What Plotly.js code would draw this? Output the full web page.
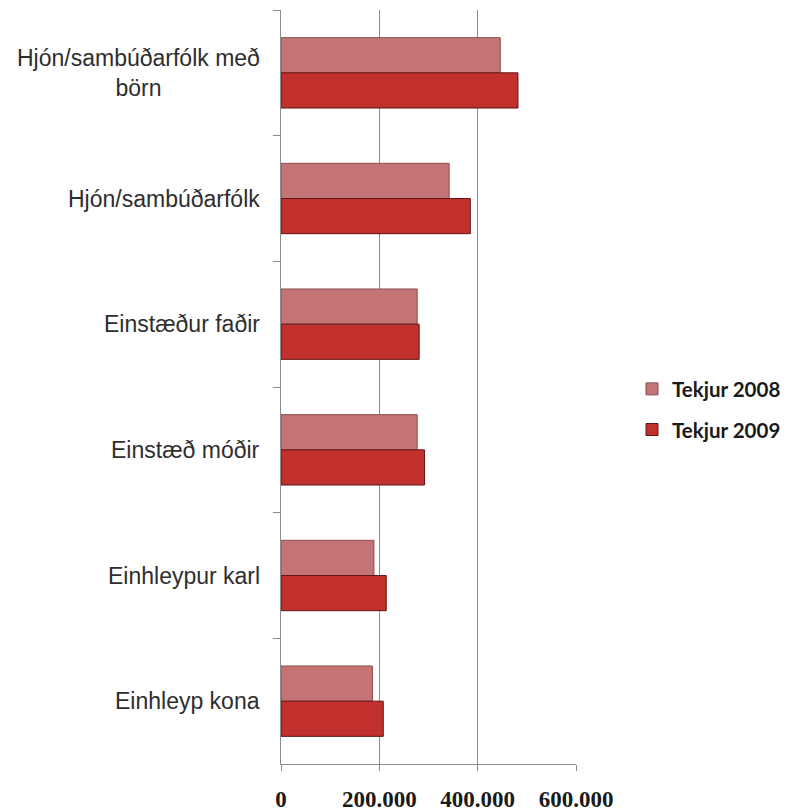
<!DOCTYPE html>
<html>
<head>
<meta charset="utf-8">
<script src="https://cdn.plot.ly/plotly-3.0.1.min.js"></script>
<style>html,body{margin:0;padding:0;background:#fff;}</style>
</head>
<body>
<div id="chart" style="width:791px;height:811px;"></div>
<script>
const categories = ['Hjón/sambúðarfólk með<br>börn', 'Hjón/sambúðarfólk', 'Einstæður faðir', 'Einstæð móðir', 'Einhleypur karl', 'Einhleyp kona'];
const tekjur2008 = [446000, 342000, 277000, 277000, 189000, 186000];
const tekjur2009 = [482000, 385000, 281000, 292000, 214000, 208000];
const seriesNames = ['Tekjur 2008', 'Tekjur 2009'];
const xTicks = [0, 200000, 400000, 600000];

const traces = [
  {type: 'bar', orientation: 'h', name: seriesNames[0], y: categories, x: tekjur2008,
   legendgroup: 'a',
   marker: {color: '#c47474', line: {color: '#8a4f4f', width: 1}}, hoverinfo: 'x+y'},
  {type: 'bar', orientation: 'h', name: seriesNames[1], y: categories, x: tekjur2009,
   legendgroup: 'b',
   marker: {color: '#c2302e', line: {color: '#5e1616', width: 1}}, hoverinfo: 'x+y'}
];

const annotations = categories.map(c => ({
  xref: 'paper', yref: 'y', x: 0, y: c, text: c, showarrow: false,
  xanchor: 'right', yanchor: 'middle', align: 'center', xshift: -19,
  font: {family: 'Liberation Sans, Arial, sans-serif', size: 23, color: '#2e2e2e'}
}));

const layout = {
  width: 791, height: 811,
  margin: {l: 281, r: 215, t: 10, b: 47},
  paper_bgcolor: '#ffffff', plot_bgcolor: '#ffffff',
  separators: ',.',
  barmode: 'group', bargap: 0.44, bargroupgap: 0,
  showlegend: true,
  legend: {xref: 'container', yref: 'container', x: 0.799, y: 0.495, xanchor: 'left', yanchor: 'middle',
    traceorder: 'grouped', tracegroupgap: 11, bgcolor: 'rgba(0,0,0,0)',
    font: {family: 'Lato, Calibri, sans-serif', size: 20.5, color: '#1a1a1a', weight: 'bold'}},
  xaxis: {range: [0, 600000], tickvals: xTicks, tickformat: ',d',
    showgrid: true, gridcolor: '#8c8c8c', gridwidth: 1,
    showline: true, linecolor: '#8c8c8c', linewidth: 1,
    ticks: 'outside', ticklen: 6, tickcolor: '#8c8c8c',
    zeroline: false, ticklabelstandoff: 8,
    tickfont: {family: 'Liberation Serif, Cambria, serif', size: 23, color: '#1a1a1a', weight: 'bold'}},
  yaxis: {type: 'category', autorange: 'reversed', showticklabels: false,
    showgrid: false, showline: true, linecolor: '#8c8c8c', linewidth: 1,
    ticks: 'outside', ticklen: 7, tickcolor: '#8c8c8c', tickson: 'boundaries', zeroline: false},
  annotations: annotations
};

Plotly.newPlot('chart', traces, layout, {displayModeBar: false, staticPlot: true});
</script>
</body>
</html>
